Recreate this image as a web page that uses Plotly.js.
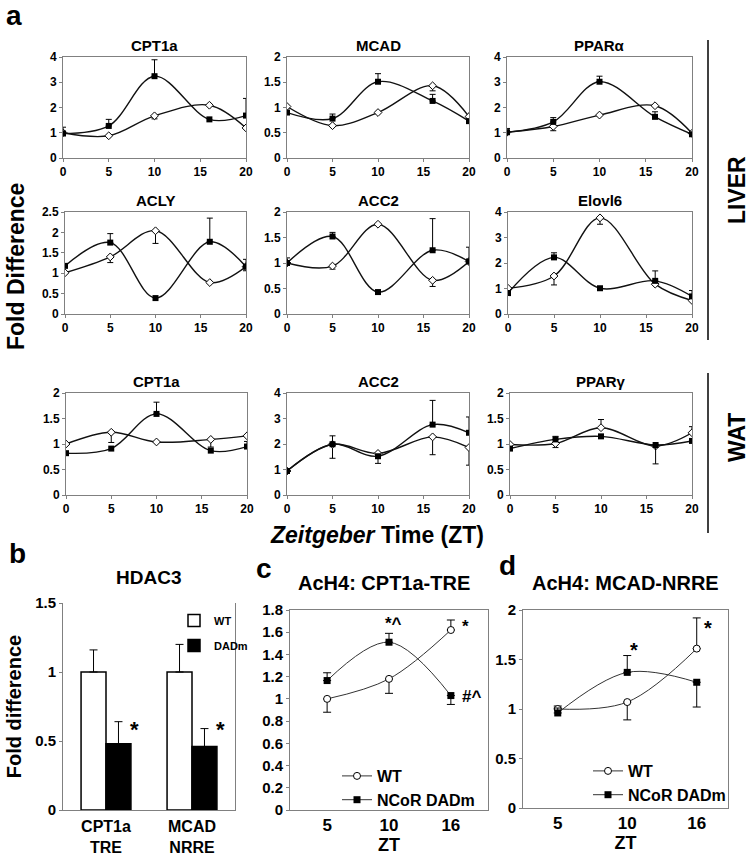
<!DOCTYPE html>
<html><head><meta charset="utf-8">
<script src="https://cdn.plot.ly/plotly-3.0.1.min.js"></script>
<style>html,body{margin:0;padding:0;background:#fff}#chart{width:750px;height:858px}</style>
</head><body><div id="chart"></div>
<script>
// ---------------- DATA ----------------
const zt = [0, 5, 10, 16, 20];
const geneTitles = ['CPT1a', 'MCAD', 'PPARα', 'ACLY', 'ACC2', 'Elovl6', 'CPT1a', 'ACC2', 'PPARγ'];
// signed error: >0 bar upward, <0 bar downward, 0 no bar
const liverCPT1a_WT = [1.0, 0.88, 1.67, 2.09, 1.19];
const liverCPT1a_WTerr = [0, 0, -0.12, 0, 0];
const liverCPT1a_DAD = [0.97, 1.27, 3.24, 1.53, 1.68];
const liverCPT1a_DADerr = [0.25, 0.26, 0.65, 0, 0.68];
const liverMCAD_WT = [1.02, 0.64, 0.90, 1.43, 0.82];
const liverMCAD_WTerr = [0, 0, 0, -0.10, 0];
const liverMCAD_DAD = [0.90, 0.78, 1.51, 1.13, 0.73];
const liverMCAD_DADerr = [0, 0.09, 0.16, 0.13, 0];
const liverPPARa_WT = [1.02, 1.25, 1.70, 2.07, 0.98];
const liverPPARa_WTerr = [0.15, -0.17, 0, 0, 0];
const liverPPARa_DAD = [1.02, 1.43, 3.02, 1.63, 0.94];
const liverPPARa_DADerr = [0, 0.17, 0.22, 0.20, 0];
const liverACLY_WT = [1.01, 1.40, 2.04, 0.77, 1.16];
const liverACLY_WTerr = [0, -0.14, -0.31, 0, -0.10];
const liverACLY_DAD = [1.18, 1.75, 0.39, 1.77, 1.16];
const liverACLY_DADerr = [0, 0.22, 0, 0.58, 0.18];
const liverACC2_WT = [1.00, 0.94, 1.76, 0.66, 1.03];
const liverACC2_WTerr = [0, -0.06, 0, -0.12, 0];
const liverACC2_DAD = [1.00, 1.52, 0.43, 1.25, 1.03];
const liverACC2_DADerr = [0.10, 0.08, 0, 0.62, 0.28];
const liverElovl6_WT = [1.01, 1.49, 3.77, 1.17, 0.53];
const liverElovl6_WTerr = [0, -0.35, -0.25, 0, 0];
const liverElovl6_DAD = [0.82, 2.22, 1.01, 1.30, 0.69];
const liverElovl6_DADerr = [0, 0.18, 0, 0.39, 0.23];
const watCPT1a_WT = [1.00, 1.23, 1.04, 1.09, 1.16];
const watCPT1a_WTerr = [0, -0.20, 0, -0.15, 0];
const watCPT1a_DAD = [0.82, 0.91, 1.59, 0.87, 0.95];
const watCPT1a_DADerr = [0, 0, 0.23, 0, 0.10];
const watACC2_WT = [0.94, 1.99, 1.63, 2.28, 1.86];
const watACC2_WTerr = [0, -0.55, 0, -0.70, -0.69];
const watACC2_DAD = [0.94, 1.99, 1.52, 2.76, 2.44];
const watACC2_DADerr = [0, 0.33, -0.28, 0.95, 0.62];
const watPPARg_WT = [0.99, 1.01, 1.32, 0.96, 1.22];
const watPPARg_WTerr = [0, -0.08, 0.16, 0, 0.12];
const watPPARg_DAD = [0.91, 1.09, 1.15, 0.98, 1.06];
const watPPARg_DADerr = [0, 0.06, 0, -0.37, 0];

// panel b
const hdacCats = ['CPT1a<br>TRE', 'MCAD<br>NRRE'];
const hdacWT = [1.0, 1.0];
const hdacWTerr = [0.16, 0.20];
const hdacDAD = [0.48, 0.46];
const hdacDADerr = [0.16, 0.13];

// panels c, d
const ztCats = ['5', '10', '16'];
const cptWT = [1.00, 1.18, 1.62];
const cptWTerr = [-0.12, -0.13, 0.09];
const cptDAD = [1.165, 1.51, 1.03];
const cptDADerr = [0.07, 0.08, -0.08];
const mcadWT = [1.00, 1.07, 1.61];
const mcadWTerr = [0.03, -0.18, 0.31];
const mcadDAD = [0.96, 1.37, 1.27];
const mcadDADerr = [0.05, 0.17, -0.25];
const cNoteText = ['*^', '*', '#^'];
const cNoteAt = ['10', '16', '16'];
const cNoteY = [1.68, 1.65, 1.02];
const dNoteText = ['*', '*'];
const dNoteAt = ['10', '16'];
const dNoteY = [1.60, 1.82];
const bNoteY = [0.58, 0.58];

// ---------------- BUILD ----------------
const W = 750, H = 858;
const FONT = 'Liberation Sans, Arial, sans-serif';
const xd = (a, b) => [a / W, b / W];
const yd = (t, b) => [1 - b / H, 1 - t / H];
const ax = (p, i) => p + 'axis' + (i === 1 ? '' : i);
const rf = (p, i) => p + (i === 1 ? '' : i);

function errObj(signed, width) {
  return {
    type: 'data', symmetric: false, visible: true,
    array: signed.map(e => e > 0 ? e : NaN),
    arrayminus: signed.map(e => e < 0 ? -e : NaN),
    width: width, thickness: 1, color: '#000'
  };
}
function baseAx(extra) {
  return Object.assign({
    showline: true, mirror: true, linecolor: '#808080', linewidth: 1,
    ticks: 'outside', ticklen: 3, tickcolor: '#808080',
    showgrid: false, zeroline: false, fixedrange: true,
    tickfont: {family: FONT, size: 12, weight: 'bold', color: '#000'}
  }, extra);
}

const layout = {
  width: W, height: H, margin: {l: 0, r: 0, t: 0, b: 0},
  paper_bgcolor: '#fff', plot_bgcolor: '#fff',
  font: {family: FONT, color: '#000'},
  showlegend: true, annotations: [], shapes: [],
  barmode: 'group', bargap: 0.42, bargroupgap: 0
};
const traces = [];

const aWT = [liverCPT1a_WT, liverMCAD_WT, liverPPARa_WT, liverACLY_WT, liverACC2_WT, liverElovl6_WT, watCPT1a_WT, watACC2_WT, watPPARg_WT];
const aWTerr = [liverCPT1a_WTerr, liverMCAD_WTerr, liverPPARa_WTerr, liverACLY_WTerr, liverACC2_WTerr, liverElovl6_WTerr, watCPT1a_WTerr, watACC2_WTerr, watPPARg_WTerr];
const aDAD = [liverCPT1a_DAD, liverMCAD_DAD, liverPPARa_DAD, liverACLY_DAD, liverACC2_DAD, liverElovl6_DAD, watCPT1a_DAD, watACC2_DAD, watPPARg_DAD];
const aDADerr = [liverCPT1a_DADerr, liverMCAD_DADerr, liverPPARa_DADerr, liverACLY_DADerr, liverACC2_DADerr, liverElovl6_DADerr, watCPT1a_DADerr, watACC2_DADerr, watPPARg_DADerr];

const aBoxes = [[63,246,57,158],[287,469,57,158],[507,692,57,158],
                [65,246,212,314],[287,469,212,314],[508,692,212,314],
                [66,247,393,495],[287,469,393,495],[510,692,393,495]];
const aYmax = [4, 2, 4, 2.5, 2, 4, 2, 4, 2];
const aDtick = [1, .5, 1, .5, .5, 1, .5, 1, .5];

for (let k = 0; k < 9; k++) {
  const i = k + 1, b = aBoxes[k];
  layout[ax('x', i)] = baseAx({domain: xd(b[0], b[1]), range: [0, 20], tick0: 0, dtick: 5, anchor: rf('y', i)});
  layout[ax('y', i)] = baseAx({domain: yd(b[2], b[3]), range: [0, aYmax[k]], tick0: 0, dtick: aDtick[k], anchor: rf('x', i)});
  traces.push({x: zt, y: aWT[k], xaxis: rf('x', i), yaxis: rf('y', i), type: 'scatter', mode: 'lines+markers',
    showlegend: false, line: {color: '#111', width: 1.4, shape: 'spline', smoothing: 1},
    marker: {symbol: 'diamond', size: 6, color: '#fff', line: {color: '#000', width: 1}},
    error_y: errObj(aWTerr[k], 3)});
  traces.push({x: zt, y: aDAD[k], xaxis: rf('x', i), yaxis: rf('y', i), type: 'scatter', mode: 'lines+markers',
    showlegend: false, line: {color: '#111', width: 1.4, shape: 'spline', smoothing: 1},
    marker: {symbol: 'square', size: 6, color: '#000'},
    error_y: errObj(aDADerr[k], 3)});
  layout.annotations.push({text: geneTitles[k], xref: rf('x', i) + ' domain', yref: rf('y', i) + ' domain',
    x: 0.5, y: 1, xanchor: 'center', yanchor: 'bottom', yshift: 1, showarrow: false,
    font: {family: FONT, size: 15, weight: 'bold', color: '#000'}});
}

// panel b
layout.xaxis10 = {domain: xd(63, 235), anchor: 'y10', type: 'category', showline: true, linecolor: '#808080',
  ticks: '', showgrid: false, zeroline: false, fixedrange: true, ticklabelstandoff: 2,
  tickfont: {family: FONT, size: 16, weight: 'bold', color: '#000'}};
layout.yaxis10 = baseAx({domain: yd(603, 810), anchor: 'x10', range: [0, 1.5], dtick: 0.5, tick0: 0,
  tickfont: {family: FONT, size: 15, weight: 'bold', color: '#000'},
  title: {text: 'Fold difference', font: {family: FONT, size: 20, weight: 'bold', color: '#000'}, standoff: 8}});
traces.push({type: 'bar', x: hdacCats, y: hdacWT, name: 'WT', xaxis: 'x10', yaxis: 'y10', legend: 'legend3',
  marker: {color: '#fff', line: {color: '#000', width: 1.5}}, error_y: errObj(hdacWTerr, 4)});
traces.push({type: 'bar', x: hdacCats, y: hdacDAD, name: 'DADm', xaxis: 'x10', yaxis: 'y10', legend: 'legend3',
  legendgroup: 'g2', marker: {color: '#000', line: {color: '#000', width: 1.5}}, error_y: errObj(hdacDADerr, 4)});
hdacCats.forEach((c, j) => layout.annotations.push({text: '*', xref: 'x10', yref: 'y10', x: j, y: bNoteY[j],
  xshift: 28, showarrow: false, font: {family: FONT, size: 22, weight: 'bold', color: '#000'}}));

// panels c, d
function lineSet(i, xdom, ydom, xr, yr, dt, wt, wtErr, dad, dadErr, leg) {
  layout[ax('x', i)] = baseAx({domain: xdom, anchor: rf('y', i), type: 'category', range: xr, ticks: '',
    tickfont: {family: FONT, size: 17, weight: 'bold', color: '#000'},
    title: {text: 'ZT', font: {family: FONT, size: 18, weight: 'bold', color: '#000'}, standoff: 0}});
  layout[ax('y', i)] = baseAx({domain: ydom, anchor: rf('x', i), range: yr, dtick: dt, tick0: 0,
    tickfont: {family: FONT, size: 15, weight: 'bold', color: '#000'}});
  traces.push({x: ztCats, y: wt, name: 'WT', xaxis: rf('x', i), yaxis: rf('y', i), legend: leg, type: 'scatter',
    mode: 'lines+markers', line: {color: '#333', width: 1, shape: 'spline', smoothing: 1},
    marker: {symbol: 'circle', size: 7, color: '#fff', line: {color: '#000', width: 1}}, error_y: errObj(wtErr, 4)});
  traces.push({x: ztCats, y: dad, name: 'NCoR DADm', xaxis: rf('x', i), yaxis: rf('y', i), legend: leg, type: 'scatter',
    mode: 'lines+markers', line: {color: '#333', width: 1, shape: 'spline', smoothing: 1},
    marker: {symbol: 'square', size: 7, color: '#000'}, error_y: errObj(dadErr, 4)});
}
lineSet(11, xd(290, 488), yd(610, 810), [-0.6, 2.6], [0, 1.8], 0.2, cptWT, cptWTerr, cptDAD, cptDADerr, 'legend');
lineSet(12, xd(523, 728), yd(610, 808), [-0.5, 2.45], [0, 2], 0.5, mcadWT, mcadWTerr, mcadDAD, mcadDADerr, 'legend2');
cNoteText.forEach((t, j) => layout.annotations.push({text: t, xref: 'x11', yref: 'y11',
  x: ztCats.indexOf(cNoteAt[j]), y: cNoteY[j],
  xshift: j === 0 ? 4 : 9, xanchor: j === 0 ? 'center' : 'left', showarrow: false,
  font: {family: FONT, size: 17, weight: 'bold', color: '#000'}}));
dNoteText.forEach((t, j) => layout.annotations.push({text: t, xref: 'x12', yref: 'y12',
  x: ztCats.indexOf(dNoteAt[j]), y: dNoteY[j],
  xshift: j === 0 ? 7 : 11, showarrow: false, font: {family: FONT, size: 20, weight: 'bold', color: '#000'}}));

const legFont = {family: FONT, size: 16, weight: 'bold', color: '#000'};
layout.legend = {x: 337 / W, y: 1 - 759 / H, xanchor: 'left', yanchor: 'top', bgcolor: 'rgba(0,0,0,0)', font: legFont, tracegroupgap: 0};
layout.legend2 = {x: 588 / W, y: 1 - 754 / H, xanchor: 'left', yanchor: 'top', bgcolor: 'rgba(0,0,0,0)', font: legFont, tracegroupgap: 0};
layout.legend3 = {x: 174 / W, y: 1 - 606 / H, xanchor: 'left', yanchor: 'top', bgcolor: 'rgba(0,0,0,0)',
  font: {family: FONT, size: 11, weight: 'bold', color: '#000'}, traceorder: 'grouped', tracegroupgap: 6};

// text labels
function txt(t, x, y, size, extra) {
  layout.annotations.push(Object.assign({text: t, xref: 'paper', yref: 'paper', x: x / W, y: 1 - y / H,
    xanchor: 'center', yanchor: 'middle', showarrow: false,
    font: {family: FONT, size: size, weight: 'bold', color: '#000'}}, extra || {}));
}
txt('a', 14, 15, 28);
txt('b', 17, 553, 28);
txt('c', 264, 568, 28);
txt('d', 507, 565, 28);
txt('Fold Difference', 16, 267, 23, {textangle: -90});
txt('<i>Zeitgeber</i> Time (ZT)', 377, 535, 23);
txt('LIVER', 737, 190, 23, {textangle: -90});
txt('WAT', 737, 438, 23, {textangle: -90});
txt('HDAC3', 148, 577, 19);
txt('AcH4: CPT1a-TRE', 384, 583, 20);
txt('AcH4: MCAD-NRRE', 625, 583, 20);

layout.shapes.push({type: 'line', xref: 'paper', yref: 'paper', x0: 708 / W, x1: 708 / W, y0: 1 - 40 / H, y1: 1 - 340 / H, line: {color: '#000', width: 1.5}});
layout.shapes.push({type: 'line', xref: 'paper', yref: 'paper', x0: 708 / W, x1: 708 / W, y0: 1 - 373 / H, y1: 1 - 533 / H, line: {color: '#000', width: 1.5}});

Plotly.newPlot('chart', traces, layout, {displayModeBar: false, staticPlot: true});
</script>
</body></html>
